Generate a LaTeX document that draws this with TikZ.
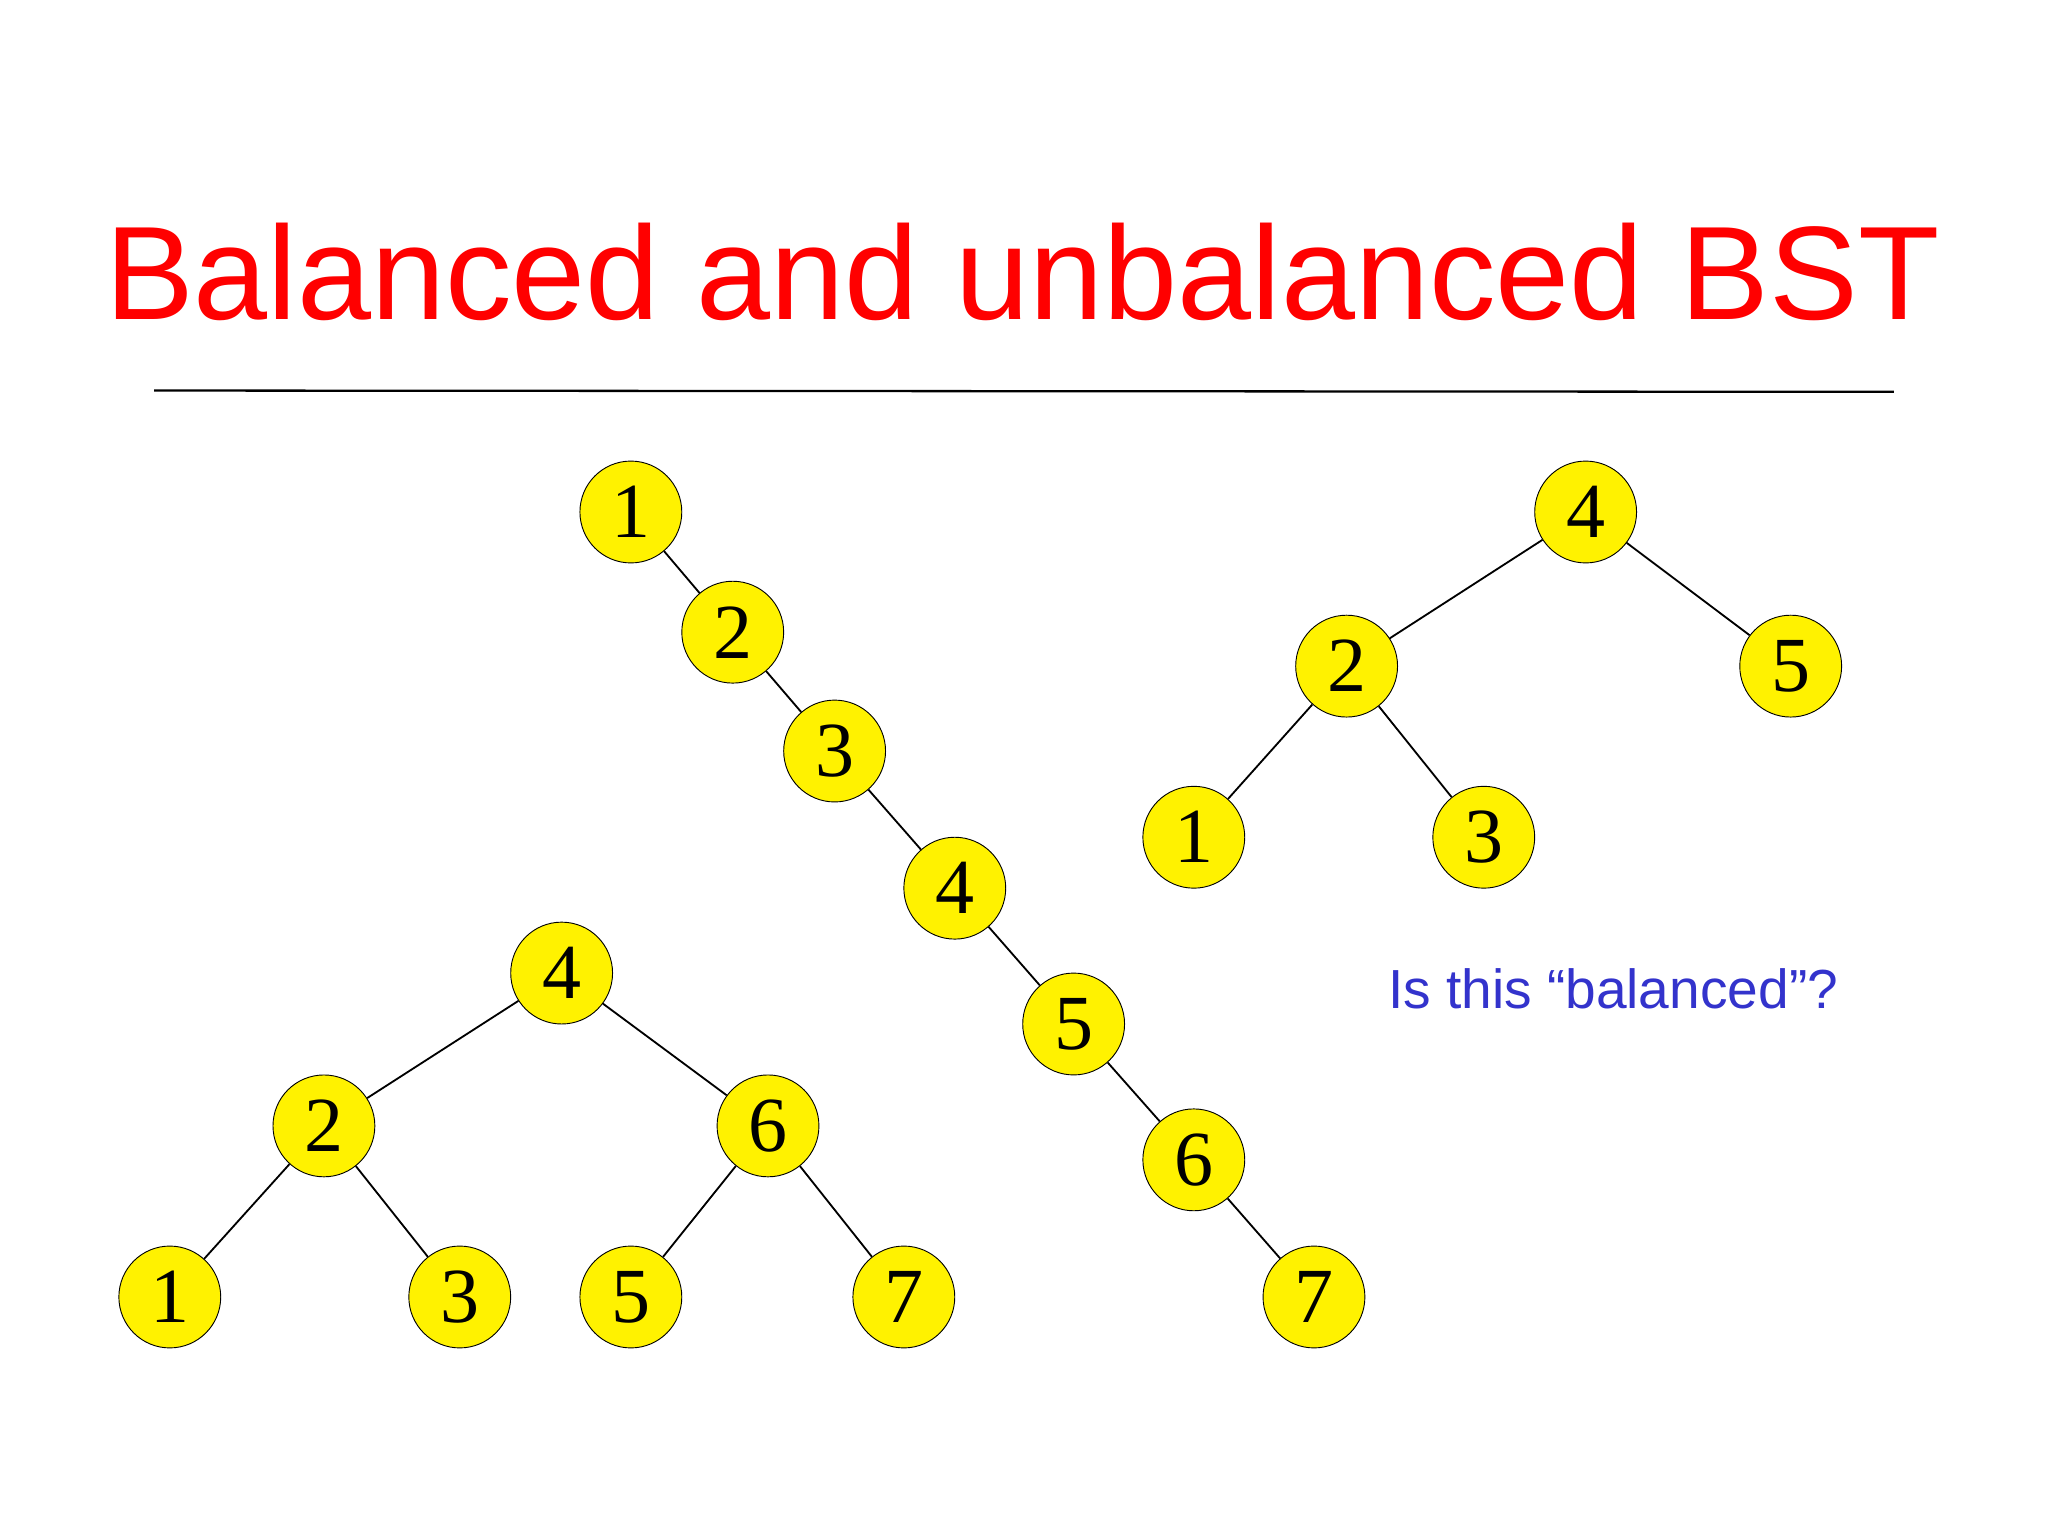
\documentclass[tikz,border=0pt]{standalone}
\usepackage{fontspec}
\setmainfont{Liberation Serif}
\setsansfont{Liberation Sans}
\begin{document}
\begin{tikzpicture}[x=0.02cm,y=-0.02cm,
  bnode/.style={circle,draw=black,fill=yellow,minimum size=1.56cm,inner sep=0pt,font=\fontsize{34}{34}\selectfont},
  edge/.style={draw=black,line width=0.8pt}]
\useasboundingbox (0,0) rectangle (1568,1176);
\node[text=red,font=\sffamily\fontsize{58}{58}\selectfont] (title) at (783,208) {Balanced and unbalanced BST};
\coordinate (l1) at (118,299); \coordinate (l2) at (1450,300);
\draw[line width=1pt] (l1) -- (l2);
% chain
\foreach \n/\x/\y in {1/483/392,2/561/484,3/639/575,4/731/680,5/822/784,6/914/888,7/1006/993}
  \node[bnode] (c\n) at (\x,\y) {\n};
\foreach \a/\b in {1/2,2/3,3/4,4/5,5/6,6/7} \draw[edge] (c\a) -- (c\b);
% right tree
\node[bnode] (r4) at (1214,392) {4};
\node[bnode] (r2) at (1031,510) {2};
\node[bnode] (r5) at (1371,510) {5};
\node[bnode] (r1) at (914,641) {1};
\node[bnode] (r3) at (1136,641) {3};
\draw[edge] (r4)--(r2); \draw[edge] (r4)--(r5); \draw[edge] (r2)--(r1); \draw[edge] (r2)--(r3);
% left tree
\node[bnode] (a4) at (430,745) {4};
\node[bnode] (a2) at (248,862) {2};
\node[bnode] (a6) at (588,862) {6};
\node[bnode] (a1) at (130,993) {1};
\node[bnode] (a3) at (352,993) {3};
\node[bnode] (a5) at (483,993) {5};
\node[bnode] (a7) at (692,993) {7};
\draw[edge] (a4)--(a2); \draw[edge] (a4)--(a6); \draw[edge] (a2)--(a1); \draw[edge] (a2)--(a3);
\draw[edge] (a6)--(a5); \draw[edge] (a6)--(a7);
\definecolor{qblue}{RGB}{51,51,204}
\node[text=qblue,font=\sffamily\fontsize{24}{24}\selectfont] (q) at (1235,757) {Is this “balanced”?};
\end{tikzpicture}
\end{document}
